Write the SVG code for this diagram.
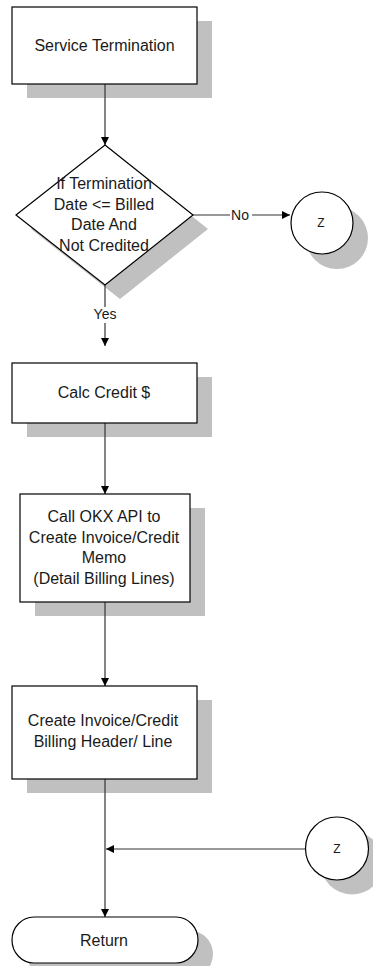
<svg xmlns="http://www.w3.org/2000/svg" width="373" height="966" viewBox="0 0 373 966">
<style>
.shadow{fill:#c0c0c0;stroke:none}
.shape{fill:#ffffff;stroke:#000000;stroke-width:1.2}
.t{font-family:"Liberation Sans",Arial,sans-serif;font-size:16px;fill:#1a1a1a;text-anchor:middle}
.lbl{font-family:"Liberation Sans",Arial,sans-serif;font-size:14px;fill:#1a1a1a;text-anchor:middle}
.z{font-family:"Liberation Sans",Arial,sans-serif;font-size:12px;fill:#1a1a1a;text-anchor:middle}
.c{fill:none;stroke:#333333;stroke-width:1.2}
</style>
<defs>
<marker id="arr" markerUnits="userSpaceOnUse" markerWidth="9" markerHeight="9" refX="8" refY="4" orient="auto">
<path d="M0,0 L8,4 L0,8 z" fill="#000000"/>
</marker>
</defs>
<rect width="373" height="966" fill="#ffffff"/>
<g id="shadows">
<rect class="shadow" x="27" y="21" width="185" height="77"/>
<polygon class="shadow" points="120,159 208,229 120,299 31,229"/>
<circle class="shadow" cx="337" cy="238" r="31"/>
<rect class="shadow" x="27" y="377" width="185" height="60"/>
<rect class="shadow" x="35" y="508" width="170" height="108"/>
<rect class="shadow" x="27" y="700" width="185" height="93"/>
<circle class="shadow" cx="352" cy="863" r="31.5"/>
<rect class="shadow" x="27" y="931" width="186" height="46" rx="22" ry="23"/>
</g>
<g id="connectors">
<line class="c" x1="105" y1="84" x2="105" y2="145" marker-end="url(#arr)"/>
<line class="c" x1="193" y1="215" x2="230" y2="215"/>
<line class="c" x1="252" y1="215" x2="290" y2="215" marker-end="url(#arr)"/>
<text class="lbl" x="240" y="220">No</text>
<line class="c" x1="105" y1="285" x2="105" y2="307"/>
<line class="c" x1="105" y1="323" x2="105" y2="346" marker-end="url(#arr)"/>
<text class="lbl" x="105" y="319">Yes</text>
<line class="c" x1="105" y1="423" x2="105" y2="494" marker-end="url(#arr)"/>
<line class="c" x1="105" y1="602" x2="105" y2="686" marker-end="url(#arr)"/>
<line class="c" x1="105" y1="779" x2="105" y2="917" marker-end="url(#arr)"/>
<line class="c" x1="306" y1="849" x2="106" y2="849" marker-end="url(#arr)"/>
</g>
<g id="service-termination">
<rect class="shape" x="12" y="7" width="185" height="77"/>
<text class="t" x="104.5" y="51">Service Termination</text>
</g>
<g id="decision">
<polygon class="shape" points="105,145 193,215 105,285 16,215"/>
<text class="t" x="104" y="189">If Termination</text>
<text class="t" x="104" y="209.5">Date &lt;= Billed</text>
<text class="t" x="104" y="230">Date And</text>
<text class="t" x="104" y="250.5">Not Credited</text>
</g>
<g id="z-top">
<circle class="shape" cx="322" cy="223" r="31"/>
<text class="z" x="321" y="227">Z</text>
</g>
<g id="calc-credit">
<rect class="shape" x="12" y="363" width="185" height="60"/>
<text class="t" x="104" y="398">Calc Credit $</text>
</g>
<g id="call-okx">
<rect class="shape" x="20" y="494" width="170" height="108"/>
<text class="t" x="104" y="522">Call OKX API to</text>
<text class="t" x="104" y="542.5">Create Invoice/Credit</text>
<text class="t" x="104" y="563">Memo</text>
<text class="t" x="104" y="583.5">(Detail Billing Lines)</text>
</g>
<g id="create-invoice">
<rect class="shape" x="12" y="686" width="185" height="93"/>
<text class="t" x="103" y="726">Create Invoice/Credit</text>
<text class="t" x="103" y="746.5">Billing Header/ Line</text>
</g>
<g id="z-bottom">
<circle class="shape" cx="337" cy="848.5" r="31.5"/>
<text class="z" x="337" y="852.5">Z</text>
</g>
<g id="return">
<rect class="shape" x="12" y="917" width="186" height="46" rx="22" ry="23"/>
<text class="t" x="104" y="946">Return</text>
</g>
</svg>
